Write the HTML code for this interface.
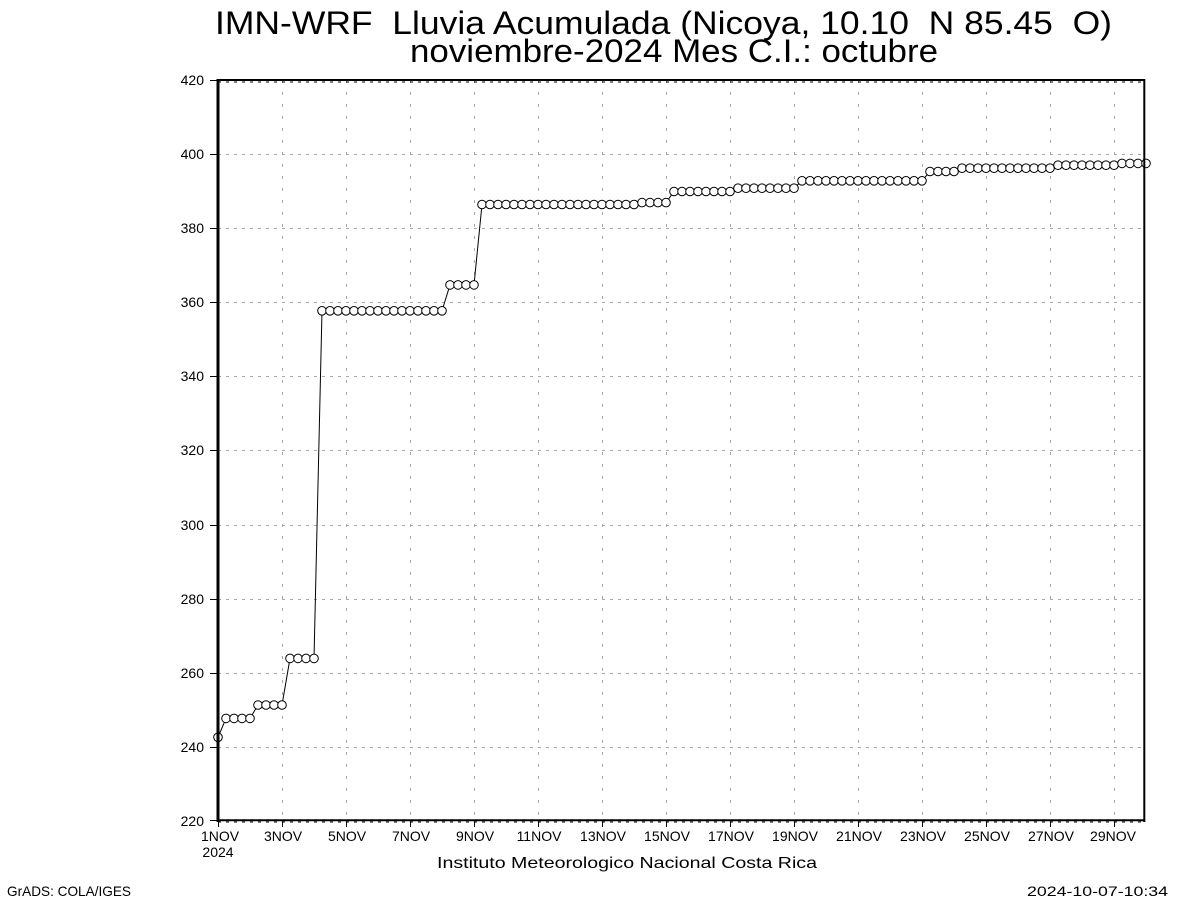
<!DOCTYPE html>
<html>
<head>
<meta charset="utf-8">
<style>
html,body{margin:0;padding:0;background:#fff;}
svg{display:block;}
text{font-family:"Liberation Sans",sans-serif;fill:#000;white-space:pre;}
</style>
</head>
<body>
<svg width="1200" height="900" viewBox="0 0 1200 900" xmlns="http://www.w3.org/2000/svg">
<defs>
<marker id="m" markerUnits="userSpaceOnUse" markerWidth="12" markerHeight="12" refX="6" refY="6" overflow="visible">
<circle cx="6" cy="6" r="4.3" fill="#fff" stroke="#000" stroke-width="1"/>
</marker>
</defs>
<rect x="0" y="0" width="1200" height="900" fill="#fff"/>

<!-- Title -->
<text x="215" y="34" font-size="32" textLength="897" lengthAdjust="spacingAndGlyphs">IMN-WRF  Lluvia Acumulada (Nicoya, 10.10  N 85.45  O)</text>
<text x="410" y="62" font-size="32" textLength="528" lengthAdjust="spacingAndGlyphs">noviembre-2024 Mes C.I.: octubre</text>

<!-- Grid horizontal -->
<g stroke="#a8a8a8" stroke-width="1" stroke-dasharray="3 5" fill="none">
<path d="M218 747.5H1145M218 673.5H1145M218 599.5H1145M218 525.5H1145M218 450.5H1145M218 376.5H1145M218 302.5H1145M218 228.5H1145M218 154.5H1145"/>
</g>
<!-- Grid vertical -->
<g stroke="#a8a8a8" stroke-width="1" stroke-dasharray="3 9" fill="none">
<path d="M282.5 80V821M346.5 80V821M410.5 80V821M474.5 80V821M538.5 80V821M602.5 80V821M666.5 80V821M730.5 80V821M794.5 80V821M858.5 80V821M922.5 80V821M986.5 80V821M1050.5 80V821M1114.5 80V821"/>
</g>

<!-- Data -->
<polyline fill="none" stroke="#000" stroke-width="1" marker-start="url(#m)" marker-mid="url(#m)" marker-end="url(#m)" points="
218,737.3
226,718.4 234,718.4 242,718.4 250,718.4
258,705 266,705 274,705 282,705
290,658.4 298,658.4 306,658.4 314,658.4
322,310.8 330,310.8 338,310.8 346,310.8 354,310.8 362,310.8 370,310.8 378,310.8 386,310.8 394,310.8 402,310.8 410,310.8 418,310.8 426,310.8 434,310.8 442,310.8
450,284.9 458,284.9 466,284.9 474,284.9
482,204.5 490,204.5 498,204.5 506,204.5 514,204.5 522,204.5 530,204.5 538,204.5 546,204.5 554,204.5 562,204.5 570,204.5 578,204.5 586,204.5 594,204.5 602,204.5 610,204.5 618,204.5 626,204.5 634,204.5
642,202.6 650,202.6 658,202.6 666,202.6
674,191.5 682,191.5 690,191.5 698,191.5 706,191.5 714,191.5 722,191.5 730,191.5
738,188.2 746,188.2 754,188.2 762,188.2 770,188.2 778,188.2 786,188.2 794,188.2
802,180.8 810,180.8 818,180.8 826,180.8 834,180.8 842,180.8 850,180.8 858,180.8 866,180.8 874,180.8 882,180.8 890,180.8 898,180.8 906,180.8 914,180.8 922,180.8
930,171.5 938,171.5 946,171.5 954,171.5
962,168.2 970,168.2 978,168.2 986,168.2 994,168.2 1002,168.2 1010,168.2 1018,168.2 1026,168.2 1034,168.2 1042,168.2 1050,168.2
1058,165.2 1066,165.2 1074,165.2 1082,165.2 1090,165.2 1098,165.2 1106,165.2 1114,165.2
1122,163.4 1130,163.4 1138,163.4 1146,163.4"/>

<!-- Axes frame -->
<g stroke="#000" fill="none">
<line x1="218" y1="79" x2="218" y2="822" stroke-width="3"/>
<line x1="1144.3" y1="79" x2="1144.3" y2="822" stroke-width="2"/>
<line x1="217" y1="80" x2="1145" y2="80" stroke-width="2"/>
<line x1="217" y1="820.3" x2="1145" y2="820.3" stroke-width="2"/>
</g>
<!-- minor tick dashes -->
<g stroke="#000" stroke-width="1" stroke-dasharray="3 5" fill="none">
<line x1="218" y1="82" x2="1144" y2="82"/>
<line x1="218" y1="822" x2="1144" y2="822"/>
</g>

<!-- Y ticks -->
<g stroke="#000" stroke-width="1">
<path d="M210 80.5H218M210 154.5H218M210 228.5H218M210 302.5H218M210 376.5H218M210 450.5H218M210 525.5H218M210 599.5H218M210 673.5H218M210 747.5H218M210 820.5H218"/>
</g>
<!-- X ticks -->
<g stroke="#000" stroke-width="1">
<path d="M218.5 821V827M282.5 821V827M346.5 821V827M410.5 821V827M474.5 821V827M538.5 821V827M602.5 821V827M666.5 821V827M730.5 821V827M794.5 821V827M858.5 821V827M922.5 821V827M986.5 821V827M1050.5 821V827M1114.5 821V827"/>
</g>

<!-- Y labels -->
<g font-size="14" text-anchor="end">
<text x="204" y="85">420</text>
<text x="204" y="159">400</text>
<text x="204" y="233">380</text>
<text x="204" y="307">360</text>
<text x="204" y="381">340</text>
<text x="204" y="455">320</text>
<text x="204" y="530">300</text>
<text x="204" y="604">280</text>
<text x="204" y="678">260</text>
<text x="204" y="752">240</text>
<text x="204" y="826">220</text>
</g>

<!-- X labels -->
<g font-size="14" text-anchor="middle">
<text x="220" y="841">1NOV</text>
<text x="283" y="841">3NOV</text>
<text x="347" y="841">5NOV</text>
<text x="411" y="841">7NOV</text>
<text x="475" y="841">9NOV</text>
<text x="539" y="841">11NOV</text>
<text x="603" y="841">13NOV</text>
<text x="667" y="841">15NOV</text>
<text x="731" y="841">17NOV</text>
<text x="795" y="841">19NOV</text>
<text x="859" y="841">21NOV</text>
<text x="923" y="841">23NOV</text>
<text x="987" y="841">25NOV</text>
<text x="1051" y="841">27NOV</text>
<text x="1113" y="841">29NOV</text>
<text x="218" y="857">2024</text>
</g>

<!-- Footer -->
<text x="437" y="868" font-size="16" textLength="380" lengthAdjust="spacingAndGlyphs">Instituto Meteorologico Nacional Costa Rica</text>
<text x="7" y="896" font-size="14" textLength="124" lengthAdjust="spacingAndGlyphs">GrADS: COLA/IGES</text>
<text x="1027" y="896" font-size="14" textLength="141" lengthAdjust="spacingAndGlyphs">2024-10-07-10:34</text>
</svg>
</body>
</html>
